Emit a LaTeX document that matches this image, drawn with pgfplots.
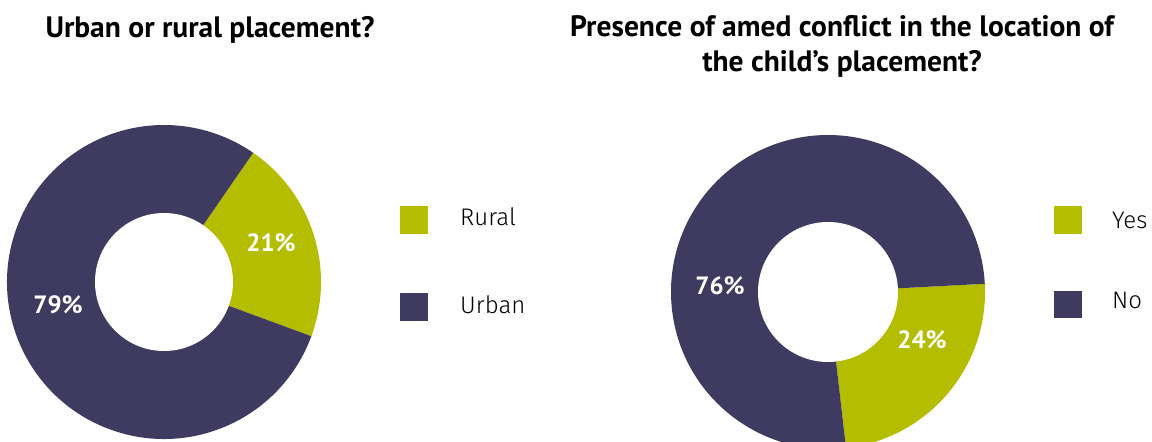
\documentclass[border=0pt]{standalone}
\usepackage{fontspec}
\setmainfont{PT Sans}
\newfontfamily\lightfont{Fira Sans Light}
\usepackage{pgfplots}
\usepackage{pgfplotstable}
\pgfplotsset{compat=1.18}
\definecolor{lime}{HTML}{B5BD00}
\definecolor{plum}{HTML}{3F3A60}

\pgfplotstableread{
cat value
Rural 21
Urban 79
}\placement
\pgfplotstableread{
cat value
Yes 24
No 76
}\conflict

\begin{document}
\begin{tikzpicture}
\useasboundingbox (0,0) rectangle (1152bp,442bp);
\pgfplotstablegetelem{0}{value}\of\placement \let\va\pgfplotsretval
\pgfplotstablegetelem{1}{value}\of\placement \let\vb\pgfplotsretval
\pgfplotstablegetelem{0}{value}\of\conflict \let\vc\pgfplotsretval
\pgfplotstablegetelem{1}{value}\of\conflict \let\vd\pgfplotsretval
\pgfmathsetmacro\aS{55.4}
\pgfmathsetmacro\aM{\aS-3.6*\va}
\pgfmathsetmacro\aE{\aM-3.6*\vb}
\pgfmathsetmacro\bS{3}
\pgfmathsetmacro\bM{\bS-3.6*\vc}
\pgfmathsetmacro\bE{\bM-3.6*\vd}
\begin{axis}[at={(0,0)}, anchor=south west, scale only axis,
  width=1152bp, height=442bp, xmin=0, xmax=1152, ymin=0, ymax=442,
  hide axis, clip=false]
% left donut
\fill[lime] (axis cs:164,160) -- ++(\aS:157bp) arc[start angle=\aS, end angle=\aM, radius=157bp] -- cycle;
\fill[plum] (axis cs:164,160) -- ++(\aM:157bp) arc[start angle=\aM, end angle=\aE, radius=157bp] -- cycle;
\fill[white] (axis cs:164,160) circle[radius=69bp];
% right donut
\fill[lime] (axis cs:828,150) -- ++(\bS:157bp) arc[start angle=\bS, end angle=\bM, radius=157bp] -- cycle;
\fill[plum] (axis cs:828,150) -- ++(\bM:157bp) arc[start angle=\bM, end angle=\bE, radius=157bp] -- cycle;
\fill[white] (axis cs:828,150) circle[radius=70bp];
% value labels
\node[text=white, font=\fontsize{25bp}{30bp}\selectfont\bfseries] at (axis cs:271,199) {\va\%};
\node[text=white, font=\fontsize{25bp}{30bp}\selectfont\bfseries] at (axis cs:58,137) {\vb\%};
\node[text=white, font=\fontsize{25bp}{30bp}\selectfont\bfseries] at (axis cs:922,102) {\vc\%};
\node[text=white, font=\fontsize{25bp}{30bp}\selectfont\bfseries] at (axis cs:720,156) {\vd\%};
% titles
\node[anchor=base, font=\fontsize{29.5bp}{34bp}\selectfont\bfseries] at (axis cs:210,404) {Urban or rural placement?};
\node[anchor=base, font=\fontsize{29.5bp}{34bp}\selectfont\bfseries] at (axis cs:842,405) {Presence of amed conflict in the location of};
\node[anchor=base, font=\fontsize{29.5bp}{34bp}\selectfont\bfseries] at (axis cs:842,370) {the child’s placement?};
% legends
\fill[lime] (axis cs:400,208) rectangle (axis cs:428,236);
\fill[plum] (axis cs:400,121) rectangle (axis cs:428,149);
\node[anchor=base west, inner sep=0pt, font=\fontsize{24bp}{28bp}\selectfont\lightfont] at (axis cs:460,216) {Rural};
\node[anchor=base west, inner sep=0pt, font=\fontsize{24bp}{28bp}\selectfont\lightfont] at (axis cs:460,128) {Urban};
\fill[lime] (axis cs:1054,208) rectangle (axis cs:1082,236);
\fill[plum] (axis cs:1054,124) rectangle (axis cs:1082,151);
\node[anchor=base west, inner sep=0pt, font=\fontsize{24bp}{28bp}\selectfont\lightfont] at (axis cs:1112,213) {Yes};
\node[anchor=base west, inner sep=0pt, font=\fontsize{24bp}{28bp}\selectfont\lightfont] at (axis cs:1112,133) {No};
\end{axis}
\end{tikzpicture}
\end{document}
